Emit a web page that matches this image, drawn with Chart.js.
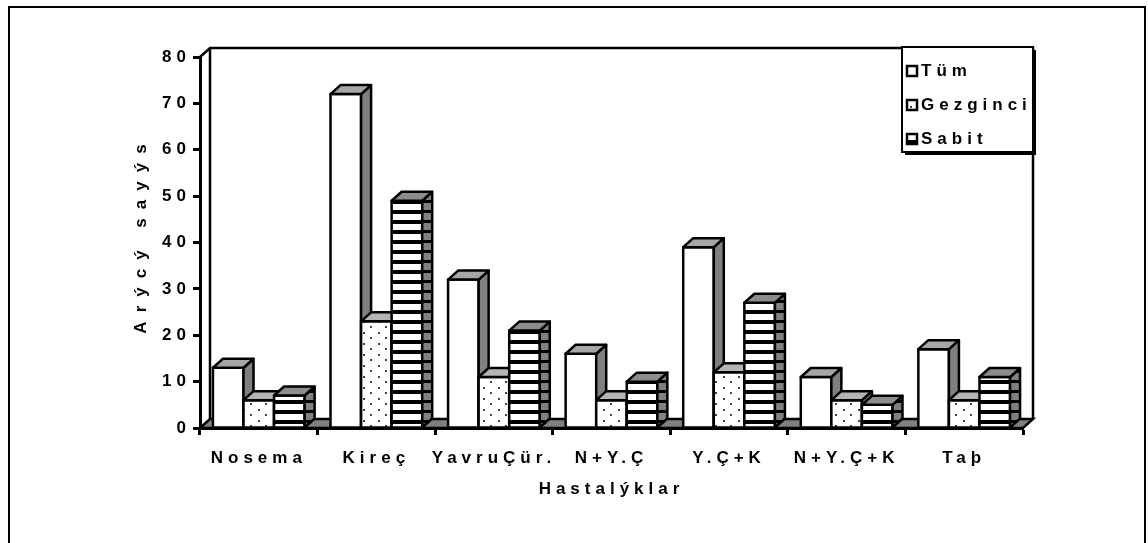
<!DOCTYPE html>
<html lang="tr">
<head>
<meta charset="UTF-8">
<title>Hastalýklar</title>
<script src="https://cdn.jsdelivr.net/npm/chart.js"></script>
<style>
  html, body { margin: 0; padding: 0; background: #fff; }
  canvas { display: block; }
</style>
</head>
<body>
<canvas id="chart" width="1148" height="543"></canvas>
<script>
// data
const categories = ['Nosema', 'Kireç', 'YavruÇür.', 'N+Y.Ç', 'Y.Ç+K', 'N+Y.Ç+K', 'Taþ'];
const seriesNames = ['Tüm', 'Gezginci', 'Sabit'];
const tumValues = [13, 72, 32, 16, 39, 11, 17];
const gezginciValues = [6, 23, 11, 6, 12, 6, 6];
const sabitValues = [7, 49, 21, 10, 27, 5, 11];
const yMin = 0, yMax = 80, yStep = 10;
const xTitle = 'Hastalýklar';
const yTitle = 'Arýcý sayýs';

// 3d depth of the old excel look
const DX = 10, DY = 9;
const SP = 5; // letter spacing
const FONT = '"Liberation Sans Narrow", "Arial Narrow", "Liberation Sans", Arial, sans-serif';

const canvas = document.getElementById('chart');
const mainCtx = canvas.getContext('2d');

function tile(w, h, draw) {
    const c = document.createElement('canvas');
    c.width = w; c.height = h;
    const g = c.getContext('2d');
    draw(g);
    return mainCtx.createPattern(c, 'repeat');
}

const dots = tile(15, 11, g => {
    g.fillStyle = '#fff'; g.fillRect(0, 0, 15, 11);
    g.fillStyle = '#444';
    g.fillRect(3, 2, 2, 2);
    g.fillRect(10, 7, 2, 2);
});
const stripes = tile(4, 10, g => {
    g.fillStyle = '#fff'; g.fillRect(0, 0, 4, 10);
    g.fillStyle = '#000'; g.fillRect(0, 0, 4, 4);
});
const sideStripes = tile(4, 10, g => {
    g.fillStyle = '#808080'; g.fillRect(0, 0, 4, 10);
    g.fillStyle = '#000'; g.fillRect(0, 0, 4, 3);
});

const faceStyles = [
    { top: '#a6a6a6', side: '#808080' },
    { top: '#b4b4b4', side: '#808080' },
    { top: '#8c8c8c', side: sideStripes }
];

function poly(ctx, pts, fill) {
    ctx.beginPath();
    ctx.moveTo(pts[0][0], pts[0][1]);
    for (let k = 1; k < pts.length; k++) ctx.lineTo(pts[k][0], pts[k][1]);
    ctx.closePath();
    ctx.fillStyle = fill;
    ctx.fill();
    ctx.stroke();
}

const box3d = {
    id: 'box3d',
    beforeLayout(chart) { chart.ctx.letterSpacing = SP + 'px'; },
    beforeDraw(chart) {
        const ctx = chart.ctx;
        ctx.letterSpacing = SP + 'px';
        ctx.save();
        ctx.fillStyle = '#fff';
        ctx.fillRect(0, 0, chart.width, chart.height);
        ctx.restore();
    },
    beforeDatasetsDraw(chart) {
        const ctx = chart.ctx, a = chart.chartArea;
        ctx.save();
        ctx.strokeStyle = '#000';
        ctx.lineWidth = 2.5;
        // floor
        poly(ctx, [[a.left, a.bottom], [a.right, a.bottom], [a.right + DX, a.bottom - DY], [a.left + DX, a.bottom - DY]], '#808080');
        // back and side walls
        ctx.beginPath();
        ctx.moveTo(a.left, a.top);
        ctx.lineTo(a.left + DX, a.top - DY);
        ctx.lineTo(a.right + DX, a.top - DY);
        ctx.lineTo(a.right + DX, a.bottom - DY);
        ctx.moveTo(a.left + DX, a.top - DY);
        ctx.lineTo(a.left + DX, a.bottom - DY);
        ctx.stroke();
        ctx.restore();
    },
    afterDatasetsDraw(chart) {
        const ctx = chart.ctx;
        const sets = chart.data.datasets;
        const metas = sets.map((d, i) => chart.getDatasetMeta(i));
        ctx.save();
        ctx.strokeStyle = '#000';
        ctx.lineWidth = 2.5;
        ctx.lineJoin = 'round';
        for (let j = 0; j < chart.data.labels.length; j++) {
            metas.forEach((meta, i) => {
                const p = meta.data[j].getProps(['x', 'y', 'base', 'width'], true);
                const L = p.x - p.width / 2, R = p.x + p.width / 2, T = p.y, B = p.base;
                ctx.fillStyle = sets[i].backgroundColor;
                ctx.fillRect(L, T, R - L, B - T);
                ctx.strokeRect(L, T, R - L, B - T);
                poly(ctx, [[R, T], [R + DX, T - DY], [R + DX, B - DY], [R, B]], faceStyles[i].side);
                poly(ctx, [[L, T], [R, T], [R + DX, T - DY], [L + DX, T - DY]], faceStyles[i].top);
            });
        }
        ctx.restore();
    },
    afterDraw(chart) {
        const ctx = chart.ctx, a = chart.chartArea;
        ctx.save();
        // y title
        ctx.font = 'bold 17px ' + FONT;
        ctx.fillStyle = '#000';
        ctx.letterSpacing = '9px';
        ctx.textAlign = 'center';
        ctx.textBaseline = 'middle';
        ctx.translate(141, (a.top + a.bottom) / 2 - 4);
        ctx.rotate(-Math.PI / 2);
        ctx.fillText(yTitle, 4, 0);
        ctx.restore();

        // legend box
        ctx.save();
        ctx.letterSpacing = SP + 'px';
        const lx = 902, ly = 47, lw = 131, lh = 105;
        ctx.fillStyle = '#000';
        ctx.fillRect(lx + 3, ly + 3, lw, lh);
        ctx.fillStyle = '#fff';
        ctx.fillRect(lx, ly, lw, lh);
        ctx.strokeStyle = '#000';
        ctx.lineWidth = 2;
        ctx.strokeRect(lx, ly, lw, lh);
        ctx.font = 'bold 17px ' + FONT;
        ctx.textBaseline = 'middle';
        ctx.textAlign = 'left';
        chart.data.datasets.forEach((d, i) => {
            const cy = ly + 24 + i * 34;
            ctx.fillStyle = d.backgroundColor;
            ctx.fillRect(lx + 5, cy - 5, 10, 10);
            ctx.lineWidth = 2.5;
            ctx.strokeRect(lx + 5, cy - 5, 10, 10);
            ctx.fillStyle = '#000';
            ctx.fillText(d.label, lx + 19, cy);
        });
        ctx.restore();

        // outer frame
        ctx.save();
        ctx.strokeStyle = '#000';
        ctx.lineWidth = 2;
        ctx.strokeRect(9, 7, 1136, 560);
        ctx.restore();
    }
};

Chart.defaults.font.family = FONT;
Chart.defaults.font.size = 17;
Chart.defaults.font.weight = 'bold';
Chart.defaults.color = '#000';

new Chart(mainCtx, {
    type: 'bar',
    data: {
        labels: categories,
        datasets: [
            { label: seriesNames[0], data: tumValues, backgroundColor: '#fff' },
            { label: seriesNames[1], data: gezginciValues, backgroundColor: dots },
            { label: seriesNames[2], data: sabitValues, backgroundColor: stripes }
        ]
    },
    options: {
        responsive: false,
        animation: false,
        layout: { padding: { left: 0, top: 57, right: 125, bottom: 0 } },
        datasets: {
            bar: { categoryPercentage: 0.78, barPercentage: 1.0, borderWidth: 0 }
        },
        plugins: {
            legend: { display: false },
            tooltip: { enabled: false }
        },
        scales: {
            x: {
                offset: true,
                grid: { display: true, drawOnChartArea: false, offset: true, tickLength: 7, tickWidth: 3, tickColor: '#000' },
                border: { display: true, color: '#000', width: 3 },
                ticks: { padding: 13, maxRotation: 0, autoSkip: false },
                title: { display: true, text: xTitle, padding: { top: 4, bottom: 43 } },
                afterFit(scale) { scale.height = 115; }
            },
            y: {
                min: yMin,
                max: yMax,
                grid: { display: true, drawOnChartArea: false, tickLength: 7, tickWidth: 3, tickColor: '#000' },
                border: { display: true, color: '#000', width: 3 },
                ticks: { stepSize: yStep, padding: 2 },
                afterFit(scale) { scale.width = 200; }
            }
        }
    },
    plugins: [box3d]
});
</script>
</body>
</html>
